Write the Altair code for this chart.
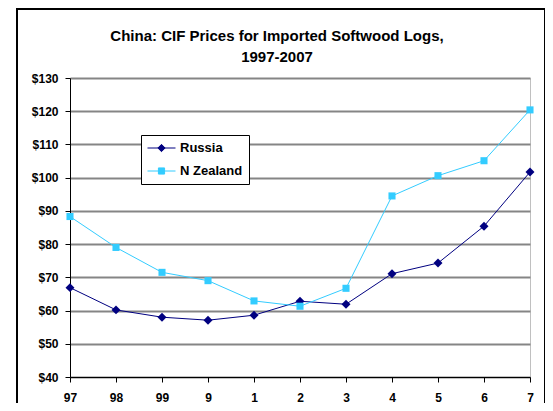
import altair as alt
import pandas as pd

years = ["97", "98", "99", "9", "1", "2", "3", "4", "5", "6", "7"]
russia = [66.9, 60.2, 58.0, 57.1, 58.6, 62.8, 61.9, 71.1, 74.3, 85.4, 101.7]
nz = [88.3, 79.0, 71.5, 69.0, 62.9, 61.3, 66.7, 94.5, 100.6, 105.1, 120.4]
series = ["Russia", "N Zealand"]
colors = ["#000080", "#33CCFF"]
markers = ["diamond", "square"]
legend_symbols = [
    "M-1,0L1,0M0,-0.26L0.26,0L0,0.26L-0.26,0Z",
    "M-1,0L1,0M-0.22,-0.22L0.22,-0.22L0.22,0.22L-0.22,0.22Z",
]
y_ticks = [40, 50, 60, 70, 80, 90, 100, 110, 120, 130]

rows = []
for name, vals in zip(series, [russia, nz]):
    for yr, v in zip(years, vals):
        rows.append({"year": yr, "price": v, "series": name})
df = pd.DataFrame(rows)

FONT = "Liberation Sans"

x_enc = alt.X(
    "year:N",
    sort=years,
    scale=alt.Scale(type="point", padding=0),
    axis=alt.Axis(
        title=None, labelAngle=0, labelFont=FONT, labelFontSize=12,
        labelFontWeight="bold", labelColor="black", tickColor="black",
        domainColor="black", tickSize=5, labelPadding=10, grid=False,
    ),
)
y_enc = alt.Y(
    "price:Q",
    scale=alt.Scale(domain=[40, 130], nice=False, zero=False),
    axis=alt.Axis(
        title=None, values=y_ticks, format="$d", labelFont=FONT,
        labelFontSize=12, labelFontWeight="bold", labelColor="black",
        tickColor="black", domainColor="black", tickSize=5, labelPadding=7,
        grid=True, gridColor="#858585", gridWidth=2,
    ),
)

base = alt.Chart(df)

lines = base.mark_line(strokeWidth=1).encode(
    x=x_enc, y=y_enc,
    color=alt.Color("series:N", scale=alt.Scale(domain=series, range=colors), legend=None),
    detail="series:N",
)

points = base.mark_point(filled=True, opacity=1).encode(
    x=x_enc, y=y_enc,
    color=alt.Color("series:N", scale=alt.Scale(domain=series, range=colors), legend=None),
    shape=alt.Shape("series:N", scale=alt.Scale(domain=series, range=markers), legend=None),
    size=alt.Size("series:N", scale=alt.Scale(domain=series, range=[80, 50]), legend=None),
)

legend_layer = base.transform_filter("false").mark_point(
    filled=True, size=784, strokeWidth=1, opacity=1
).encode(
    x=x_enc, y=y_enc,
    color=alt.Color(
        "series:N", scale=alt.Scale(domain=series, range=colors),
        legend=alt.Legend(
            title=None, orient="none", legendX=71, legendY=57,
            fillColor="white", strokeColor="black", padding=6,
            rowPadding=9, clipHeight=14, labelFont=FONT, labelFontSize=13,
            labelFontWeight="bold", labelColor="black", symbolSize=784,
            symbolStrokeWidth=1, labelOffset=4,
        ),
    ),
    stroke=alt.Stroke("series:N", scale=alt.Scale(domain=series, range=colors)),
    shape=alt.Shape("series:N", scale=alt.Scale(domain=series, range=legend_symbols)),
)

frame = alt.Chart(pd.DataFrame({"k": [0]})).mark_rect(
    fill=None, stroke="black", strokeWidth=2, clip=False
).encode(
    x=alt.value(-53), x2=alt.value(475), y=alt.value(-69), y2=alt.value(340)
)

chart = alt.layer(frame, lines, points, legend_layer).resolve_scale(
    color="independent", shape="independent", stroke="independent", size="independent"
).properties(
    width=460,
    height=299,
    autosize=alt.AutoSizeParams(type="none"),
    padding={"left": 62, "top": 70, "right": 15, "bottom": 26},
    title=alt.TitleParams(
        text=["China: CIF Prices for Imported Softwood Logs,", "1997-2007"],
        font=FONT, fontSize=15, fontWeight="bold", color="black",
        anchor="middle", offset=-57, lineHeight=21, dx=-23,
    ),
).configure_view(stroke="#c0c0c0", strokeWidth=1)

chart.save("out.html", embed_options={"renderer": "svg", "actions": False})
